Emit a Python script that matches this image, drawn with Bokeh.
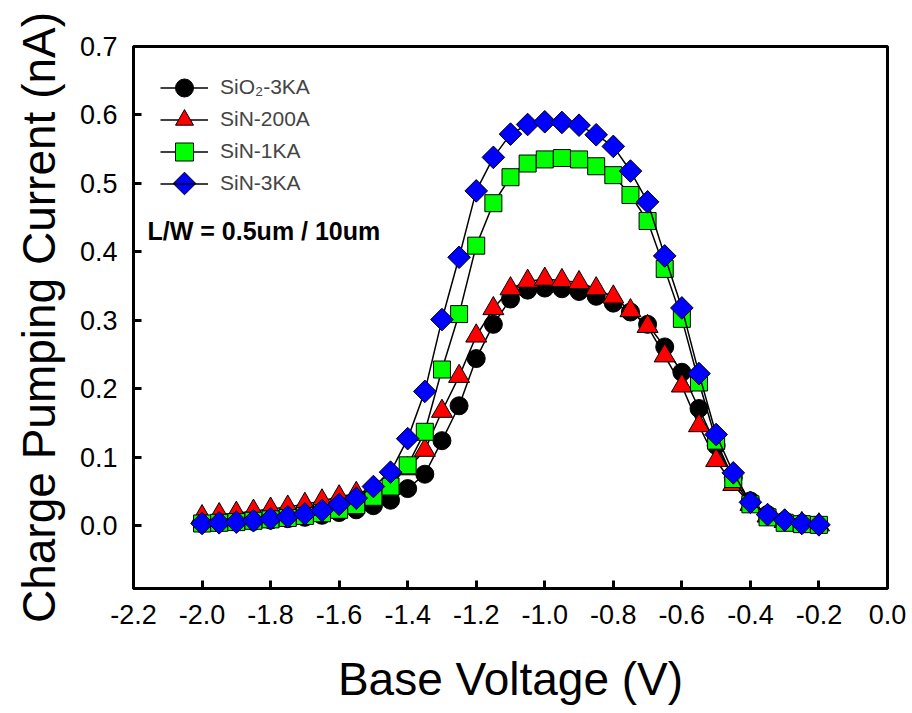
import numpy as np
from bokeh.plotting import figure
from bokeh.models import Range1d, FixedTicker, NumeralTickFormatter, Legend, LegendItem, Label, ColumnDataSource
from bokeh.embed import file_html
from bokeh.resources import INLINE

# ---- data ----
voltage = [-2.00, -1.95, -1.90, -1.85, -1.80, -1.75, -1.70, -1.65, -1.60, -1.55,
           -1.50, -1.45, -1.40, -1.35, -1.30, -1.25, -1.20, -1.15, -1.10, -1.05,
           -1.00, -0.95, -0.90, -0.85, -0.80, -0.75, -0.70, -0.65, -0.60, -0.55,
           -0.50, -0.45, -0.40, -0.35, -0.30, -0.25, -0.20]

sio2_3ka = [0.003, 0.004, 0.005, 0.006, 0.008, 0.010, 0.012, 0.015, 0.019, 0.023,
            0.029, 0.037, 0.054, 0.075, 0.124, 0.175, 0.244, 0.294, 0.331, 0.344,
            0.347, 0.346, 0.342, 0.335, 0.325, 0.312, 0.294, 0.261, 0.224, 0.171,
            0.117, 0.070, 0.036, 0.016, 0.007, 0.003, 0.001]

sin_200a = [0.013, 0.016, 0.018, 0.021, 0.024, 0.027, 0.031, 0.036, 0.042, 0.047,
            0.054, 0.064, 0.083, 0.110, 0.167, 0.218, 0.277, 0.317, 0.346, 0.357,
            0.360, 0.358, 0.355, 0.346, 0.334, 0.314, 0.291, 0.248, 0.204, 0.146,
            0.095, 0.060, 0.031, 0.014, 0.006, 0.003, 0.001]

sin_1ka = [0.003, 0.004, 0.005, 0.007, 0.009, 0.011, 0.014, 0.018, 0.023, 0.030,
           0.042, 0.057, 0.088, 0.137, 0.228, 0.309, 0.409, 0.471, 0.509, 0.529,
           0.535, 0.537, 0.535, 0.525, 0.512, 0.483, 0.445, 0.375, 0.302, 0.209,
           0.124, 0.068, 0.031, 0.012, 0.004, 0.002, 0.001]

sin_3ka = [0.003, 0.004, 0.005, 0.007, 0.010, 0.013, 0.017, 0.022, 0.031, 0.040,
           0.057, 0.078, 0.127, 0.196, 0.301, 0.392, 0.489, 0.538, 0.572, 0.586,
           0.590, 0.589, 0.585, 0.571, 0.554, 0.518, 0.473, 0.394, 0.318, 0.222,
           0.133, 0.077, 0.034, 0.016, 0.008, 0.003, 0.001]

series_labels = ["SiO\u2082-3KA", "SiN-200A", "SiN-1KA", "SiN-3KA"]
x_ticks = [-2.2, -2.0, -1.8, -1.6, -1.4, -1.2, -1.0, -0.8, -0.6, -0.4, -0.2, 0.0]
y_ticks = [0.0, 0.1, 0.2, 0.3, 0.4, 0.5, 0.6, 0.7]
annotation = "L/W = 0.5um / 10um"

FONT = "Liberation Sans"

# ---- layout (pixels) ----
W, H = 912, 713
LEFT, RIGHT, TOP, BOTTOM = 133, 25, 46, 125
X0, X1, Y0, Y1 = -2.2, 0.0, -0.092, 0.7
FRAME_W = W - LEFT - RIGHT
FRAME_H = H - TOP - BOTTOM

p = figure(width=W, height=H, output_backend="svg", toolbar_location=None,
           x_range=Range1d(X0, X1), y_range=Range1d(Y0, Y1),
           min_border_left=LEFT, min_border_right=RIGHT, min_border_top=TOP, min_border_bottom=BOTTOM)
p.grid.visible = False
p.background_fill_color = "white"
p.border_fill_color = "white"
p.outline_line_color = "black"
p.outline_line_width = 3

for ax in (p.xaxis[0], p.yaxis[0]):
    ax.axis_line_width = 3
    ax.axis_line_color = "black"
    ax.major_tick_in = 8
    ax.major_tick_out = 0
    ax.major_tick_line_width = 3
    ax.major_tick_line_color = "black"
    ax.minor_tick_line_color = None
    ax.major_label_text_font = FONT
    ax.major_label_text_font_size = "27px"
    ax.major_label_text_color = "black"
    ax.axis_label_text_font = FONT
    ax.axis_label_text_font_size = "46px"
    ax.axis_label_text_font_style = "normal"
    ax.axis_label_text_color = "black"
    ax.formatter = NumeralTickFormatter(format="0.0")

p.xaxis.ticker = FixedTicker(ticks=x_ticks)
p.yaxis.ticker = FixedTicker(ticks=y_ticks)
p.xaxis.axis_label = "Base Voltage (V)"
p.yaxis.axis_label = "Charge Pumping Current (nA)"
p.xaxis.major_label_standoff = 16
p.yaxis.major_label_standoff = 16
p.xaxis.axis_label_standoff = 26
p.yaxis.axis_label_standoff = 12

styles = [
    dict(data=sio2_3ka, marker="circle", color="#000000", size=18, angle=0.0),
    dict(data=sin_200a, marker="triangle", color="#ff0000", size=21, angle=0.0),
    dict(data=sin_1ka, marker="square", color="#00ff00", size=17, angle=0.0),
    dict(data=sin_3ka, marker="square", color="#0000ff", size=16, angle=np.pi / 4),
]

# legend rows (pixel centres, from the top of the canvas)
row_centres = [87, 119, 151, 183]
GLYPH_W, GLYPH_H = 48, 45
LEG_X = 27          # glyph left edge relative to frame left
glyph_cx = LEFT + LEG_X + GLYPH_W / 2


def px_to_data_x(px):
    return X0 + (px - LEFT) / FRAME_W * (X1 - X0)


def px_to_data_y(py):
    return Y1 - (py - TOP) / FRAME_H * (Y1 - Y0)


for i, (lab, st) in enumerate(zip(series_labels, styles)):
    src = ColumnDataSource(dict(x=voltage, y=st["data"]))
    lr = p.line("x", "y", source=src, line_color="black", line_width=1.5)
    sr = p.scatter("x", "y", source=src, marker=st["marker"], size=st["size"], angle=st["angle"],
                   fill_color=st["color"], line_color="black", line_width=1)
    rotated = st["angle"] != 0.0
    rends = [lr] if rotated else [lr, sr]
    vy = (TOP + FRAME_H) - (row_centres[i] + GLYPH_H / 2)
    leg = Legend(items=[LegendItem(label=lab, renderers=rends)], location=(LEG_X, vy),
                 glyph_width=GLYPH_W, glyph_height=GLYPH_H, label_height=30, spacing=0,
                 padding=0, margin=0, border_line_color=None, background_fill_alpha=0,
                 label_text_font=FONT, label_text_font_size="21px", label_standoff=12)
    if rotated:
        leg.level = "underlay"
        # legend symbol (rotated square) drawn as a marker at the legend row
        lsrc = ColumnDataSource(dict(x=[px_to_data_x(glyph_cx)], y=[px_to_data_y(row_centres[i])]))
        p.scatter("x", "y", source=lsrc, marker=st["marker"], size=st["size"], angle=st["angle"],
                  fill_color=st["color"], line_color="black", line_width=1)
    p.add_layout(leg)

p.add_layout(Label(x=-2.159, y=0.430, text=annotation, text_font=FONT, text_font_style="bold",
                   text_font_size="25px", text_baseline="alphabetic", text_color="black"))

open("out.html", "w").write(file_html(p, INLINE))
